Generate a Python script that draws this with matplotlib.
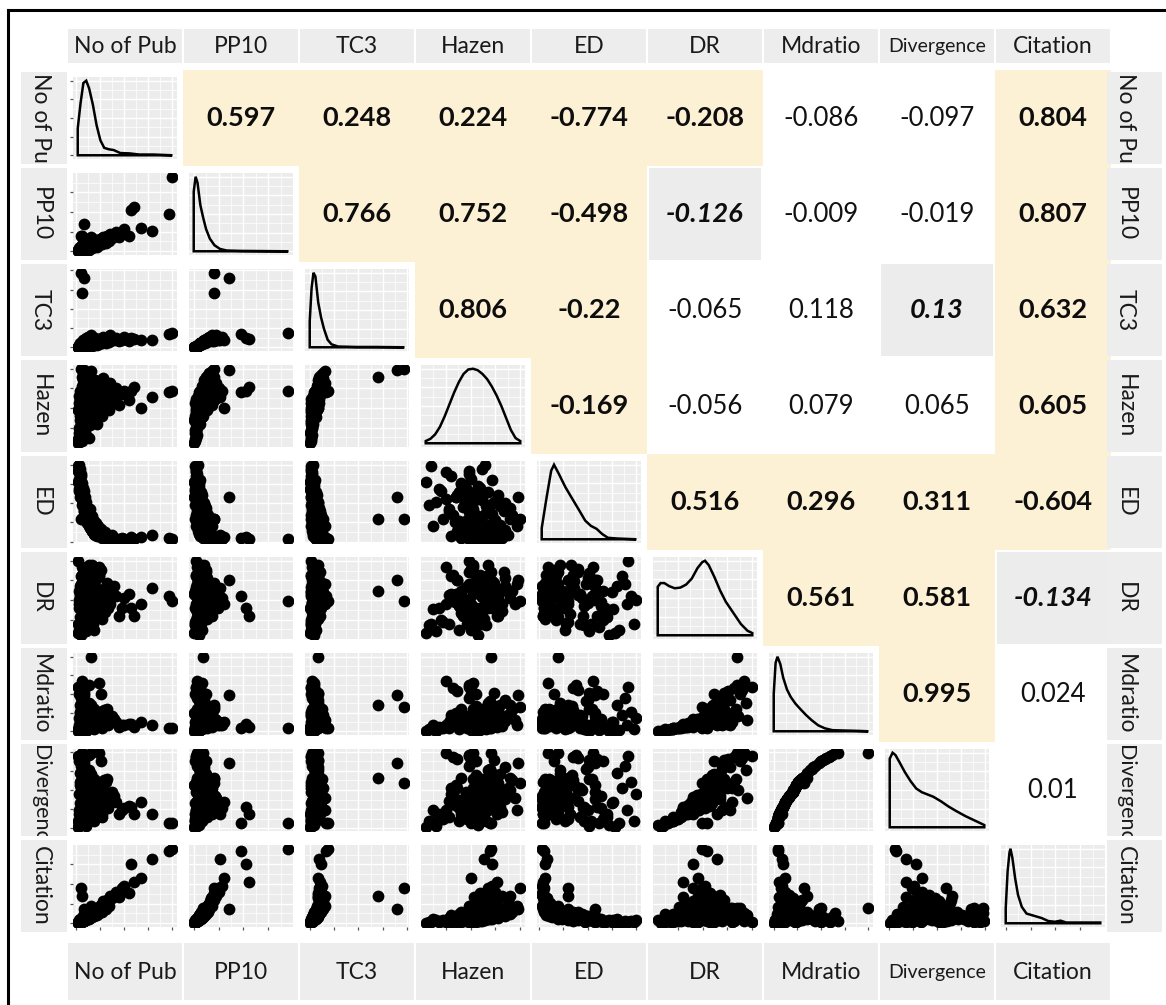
import matplotlib

matplotlib.use('Agg')
import matplotlib.pyplot as plt
import numpy as np
from matplotlib.patches import Rectangle
from matplotlib.ticker import MaxNLocator, AutoMinorLocator

plt.rcParams['font.family'] = ['Lato', 'DejaVu Sans']

W, H = 1166, 1005

LABELS = ['No of Pub', 'PP10', 'TC3', 'Hazen', 'ED', 'DR', 'Mdratio', 'Divergence', 'Citation']

# one value per observation, same order in every list (0-100 scale)
no_of_pub = [2, 3, 4, 5, 5, 6, 7, 8, 8, 9,
             10, 10, 11, 12, 12, 13, 14, 15, 15, 16,
             17, 18, 19, 20, 21, 22, 23, 25, 26, 28,
             30, 32, 35, 38, 42, 48, 55, 3, 4, 6,
             7, 9, 11, 13, 16, 2, 3, 4, 6, 8,
             10, 12, 14, 17, 19, 22, 24, 27, 31, 34,
             2, 5, 7, 9, 11, 13, 15, 18, 20, 24,
             26, 29, 6,
             3, 4, 5, 6, 7, 8, 9, 10, 11, 12,
             13, 14, 15, 16, 17, 18, 19, 20, 22, 24,
             27, 30, 33, 36, 40, 45, 50, 4, 5, 6,
             3, 7, 9, 8, 12,
             100, 97, 57, 60, 79, 68, 5, 8, 6, 16]
pp10 = [1, 2, 1, 3, 2, 4, 3, 5, 2, 6,
        4, 7, 3, 8, 5, 9, 6, 10, 4, 12,
        7, 11, 8, 14, 9, 13, 10, 16, 12, 18,
        15, 20, 22, 17, 25, 24, 20, 4, 6, 8,
        10, 12, 14, 15, 18, 0, 1, 0, 1, 2,
        1, 3, 2, 4, 5, 6, 8, 9, 11, 13,
        2, 5, 7, 9, 11, 12, 8, 6, 10, 12,
        14, 16, 3,
        2, 3, 4, 2, 5, 6, 3, 8, 6, 9,
        4, 10, 7, 11, 5, 13, 9, 7, 15, 11,
        13, 18, 16, 19, 21, 18, 28, 2, 3, 5,
        1, 4, 7, 3, 6,
        95, 48, 53, 56, 26, 30, 20, 35, 20, 9]
tc3 = [1, 2, 1, 2, 1, 3, 2, 4, 1, 5,
       3, 6, 2, 4, 3, 8, 4, 7, 2, 9,
       5, 10, 6, 12, 5, 8, 7, 11, 9, 14,
       10, 13, 16, 9, 12, 10, 8, 3, 5, 7,
       9, 10, 12, 14, 16, 0, 0, 1, 1, 1,
       1, 2, 1, 2, 3, 3, 4, 5, 6, 7,
       1, 4, 6, 8, 9, 11, 6, 4, 7, 8,
       10, 11, 2,
       1, 2, 3, 1, 4, 4, 2, 6, 5, 7,
       2, 8, 5, 9, 3, 10, 6, 4, 11, 7,
       8, 12, 10, 11, 9, 8, 13, 1, 2, 4,
       1, 3, 5, 2, 4,
       19, 17, 12, 11, 10, 9, 97, 90, 70, 8]
hazen = [10, 25, 40, 55, 30, 62, 45, 70, 20, 50,
         35, 65, 15, 58, 42, 75, 48, 60, 28, 80,
         52, 68, 38, 85, 46, 64, 55, 78, 50, 88,
         62, 72, 82, 58, 75, 68, 60, 65, 72, 78,
         85, 90, 92, 95, 97, 5, 18, 35, 8, 32,
         22, 40, 12, 36, 44, 30, 52, 40, 56, 48,
         48, 58, 68, 74, 80, 84, 56, 46, 62, 66,
         70, 76, 25,
         50, 60, 38, 45, 52, 66, 28, 72, 58, 74,
         34, 68, 50, 76, 42, 82, 54, 46, 78, 60,
         64, 70, 56, 66, 62, 54, 72, 62, 48, 40,
         56, 36, 62, 44, 52,
         71, 70, 72, 77, 64, 50, 100, 98, 90, 71]
ed = [98, 90, 75, 62, 85, 55, 70, 48, 66, 40,
      58, 36, 52, 30, 45, 28, 38, 25, 42, 22,
      33, 18, 27, 15, 24, 12, 20, 10, 16, 8,
      12, 6, 5, 8, 4, 5, 3, 100, 80, 60,
      50, 44, 35, 30, 20, 78, 68, 58, 47, 35,
      30, 24, 20, 14, 10, 7, 9, 5, 4, 3,
      92, 72, 64, 52, 46, 40, 34, 28, 22, 18,
      13, 11, 56,
      82, 70, 64, 58, 52, 46, 40, 36, 32, 28,
      26, 22, 18, 16, 14, 12, 10, 9, 8, 7,
      6, 5, 5, 4, 3, 4, 3, 95, 88, 76,
      66, 60, 54, 50, 42,
      3, 5, 6, 4, 8, 6, 30, 58, 30, 20]
dr = [20, 45, 60, 15, 80, 55, 35, 70, 25, 90,
      50, 65, 10, 75, 30, 58, 85, 40, 20, 62,
      95, 55, 12, 68, 48, 78, 28, 52, 88, 60,
      35, 72, 45, 65, 55, 40, 58, 50, 68, 30,
      78, 52, 62, 45, 70, 8, 40, 58, 18, 82,
      22, 62, 38, 75, 48, 57, 92, 33, 66, 50,
      100, 5, 48, 72, 42, 86, 60, 20, 54, 80,
      44, 64, 92,
      12, 28, 42, 66, 84, 18, 56, 74, 32, 60,
      48, 94, 24, 64, 52, 36, 70, 46, 58, 82,
      26, 62, 40, 54, 68, 30, 52, 55, 70, 38,
      62, 76, 20, 46, 58,
      49, 55, 40, 30, 65, 45, 49, 75, 61, 85]
mdratio = [3, 8, 12, 2, 22, 30, 6, 40, 4, 55,
           14, 25, 1, 10, 9, 20, 62, 16, 5, 35,
           15, 28, 3, 14, 18, 8, 7, 26, 50, 22,
           11, 30, 15, 20, 12, 8, 10, 18, 35, 10,
           42, 20, 28, 15, 8, 0, 6, 24, 3, 58,
           4, 30, 8, 22, 12, 18, 65, 6, 26, 14,
           60, 1, 16, 52, 10, 20, 34, 4, 24, 12,
           17, 28, 68,
           2, 5, 9, 20, 30, 3, 13, 24, 6, 18,
           11, 38, 4, 22, 14, 7, 30, 10, 16, 26,
           5, 20, 9, 13, 16, 6, 9, 26, 44, 12,
           50, 54, 3, 8, 22,
           4, 4, 10, 6, 9, 12, 32, 48, 35, 100]
divergence = [9, 24, 33, 6, 52, 65, 18, 78, 12, 92,
              38, 57, 3, 28, 26, 48, 96, 41, 15, 71,
              40, 62, 9, 38, 45, 24, 21, 59, 88, 52,
              30, 65, 40, 48, 34, 24, 29, 45, 72, 28,
              80, 50, 63, 40, 24, 1, 18, 56, 9, 94,
              12, 66, 24, 52, 34, 45, 98, 18, 60, 38,
              95, 4, 42, 90, 28, 50, 70, 12, 56, 34,
              43, 63, 99,
              6, 15, 26, 48, 65, 9, 36, 56, 18, 45,
              30, 76, 12, 52, 38, 21, 65, 28, 41, 60,
              15, 48, 26, 36, 42, 18, 26, 60, 82, 34,
              88, 91, 9, 24, 52,
              6, 7, 28, 18, 18, 34, 59, 85, 66, 98]
citation = [1, 2, 2, 3, 2, 4, 3, 5, 3, 6,
            5, 7, 4, 9, 6, 10, 8, 11, 7, 14,
            10, 15, 12, 18, 13, 19, 16, 22, 20, 28,
            25, 30, 35, 32, 40, 45, 38, 4, 5, 7,
            9, 12, 15, 18, 22, 0, 1, 1, 2, 3,
            4, 5, 6, 8, 9, 11, 13, 15, 18, 22,
            2, 4, 6, 8, 11, 14, 13, 12, 16, 19,
            23, 26, 3,
            2, 3, 3, 4, 5, 5, 4, 7, 7, 9,
            7, 11, 10, 13, 11, 15, 14, 14, 18, 18,
            21, 27, 28, 33, 36, 34, 48, 3, 3, 4,
            2, 5, 7, 5, 8,
            95, 92, 75, 52, 82, 58, 45, 18, 35, 20]

series = [no_of_pub, pp10, tc3, hazen, ed, dr, mdratio, divergence, citation]

# diagonal density outlines, x as share of the data range, y as share of the peak
dens_nopub_x = [0, 0.03, 0.06, 0.09, 0.12, 0.16, 0.20, 0.24, 0.28, 0.33, 0.38, 0.45, 0.55, 0.65, 0.8, 1.0]
dens_nopub_y = [0.36, 0.7, 0.97, 1.0, 0.9, 0.68, 0.4, 0.2, 0.1, 0.08, 0.07, 0.03, 0.025, 0.01, 0.01, 0.0]
dens_pp10_x = [0, 0.02, 0.04, 0.07, 0.1, 0.13, 0.17, 0.22, 0.28, 0.35, 0.5, 0.7, 1.0]
dens_pp10_y = [0.8, 1.0, 0.92, 0.62, 0.45, 0.3, 0.17, 0.08, 0.03, 0.01, 0.005, 0.003, 0.0]
dens_tc3_x = [0, 0.02, 0.04, 0.06, 0.09, 0.12, 0.15, 0.19, 0.23, 0.3, 0.5, 0.7, 1.0]
dens_tc3_y = [0.35, 0.8, 1.0, 0.95, 0.6, 0.4, 0.25, 0.1, 0.04, 0.01, 0.004, 0.004, 0.0]
dens_hazen_x = [0, 0.05, 0.1, 0.15, 0.2, 0.25, 0.3, 0.35, 0.4, 0.45, 0.5,
                0.55, 0.6, 0.65, 0.7, 0.75, 0.8, 0.85, 0.9, 0.95, 1.0]
dens_hazen_y = [0.03, 0.06, 0.12, 0.22, 0.36, 0.52, 0.68, 0.82, 0.93, 0.99, 1.0,
                0.98, 0.93, 0.86, 0.76, 0.64, 0.5, 0.34, 0.18, 0.07, 0.03]
dens_ed_x = [0, 0.05, 0.1, 0.13, 0.18, 0.25, 0.32, 0.4, 0.46, 0.52, 0.58, 0.64, 0.7, 0.8, 1.0]
dens_ed_y = [0.15, 0.55, 0.92, 1.0, 0.88, 0.7, 0.55, 0.38, 0.25, 0.18, 0.14, 0.07, 0.02, 0.01, 0.0]
dens_dr_x = [0, 0.03, 0.07, 0.12, 0.18, 0.24, 0.3, 0.36, 0.42, 0.47, 0.5,
             0.54, 0.6, 0.66, 0.72, 0.8, 0.88, 0.95, 1.0]
dens_dr_y = [0.65, 0.7, 0.7, 0.66, 0.63, 0.64, 0.68, 0.76, 0.9, 0.98, 1.0,
             0.94, 0.78, 0.6, 0.45, 0.3, 0.15, 0.06, 0.03]
dens_md_x = [0, 0.02, 0.04, 0.07, 0.1, 0.14, 0.18, 0.23, 0.28, 0.34, 0.4, 0.47, 0.54, 0.62, 0.75, 0.9, 1.0]
dens_md_y = [0.5, 0.92, 1.0, 0.9, 0.72, 0.56, 0.46, 0.37, 0.3, 0.22, 0.15, 0.08, 0.04, 0.015, 0.01, 0.005, 0.0]
dens_div_x = [0, 0.03, 0.06, 0.1, 0.16, 0.22, 0.28, 0.34, 0.4, 0.46, 0.54, 0.62, 0.7, 0.8, 0.9, 1.0]
dens_div_y = [0.92, 1.0, 0.97, 0.88, 0.74, 0.62, 0.52, 0.47, 0.44, 0.41, 0.35, 0.28, 0.22, 0.15, 0.09, 0.03]
dens_cit_x = [0, 0.02, 0.04, 0.05, 0.07, 0.1, 0.13, 0.17, 0.22, 0.3, 0.38, 0.45, 0.52, 0.58, 0.64, 0.75, 0.9, 1.0]
dens_cit_y = [0.2, 0.7, 0.95, 1.0, 0.88, 0.6, 0.38, 0.22, 0.13, 0.1, 0.07, 0.03, 0.02, 0.035, 0.01, 0.01, 0.01, 0.01]

densities = [(dens_nopub_x, dens_nopub_y), (dens_pp10_x, dens_pp10_y), (dens_tc3_x, dens_tc3_y),
             (dens_hazen_x, dens_hazen_y), (dens_ed_x, dens_ed_y), (dens_dr_x, dens_dr_y),
             (dens_md_x, dens_md_y), (dens_div_x, dens_div_y), (dens_cit_x, dens_cit_y)]

# upper triangle: correlations and how each cell is marked
# S = significant (cream, bold), G = borderline (grey, bold italic), N = not significant
corr_rows = [
    [0.597, 0.248, 0.224, -0.774, -0.208, -0.086, -0.097, 0.804],
    [0.766, 0.752, -0.498, -0.126, -0.009, -0.019, 0.807],
    [0.806, -0.22, -0.065, 0.118, 0.13, 0.632],
    [-0.169, -0.056, 0.079, 0.065, 0.605],
    [0.516, 0.296, 0.311, -0.604],
    [0.561, 0.581, -0.134],
    [0.995, 0.024],
    [0.01],
]
sig_rows = ['SSSSSNNS', 'SSSGNNS', 'SSNNGS', 'SNNNS', 'SSSS', 'SSG', 'SN', 'N']

CREAM = '#FCF0D5'
GREY_CELL = '#ECECEC'
PANEL_BG = '#ECECEC'
STRIP_BG = '#EDEDED'

COL0_CX, PITCH_X, PANEL_W = 125, 116, 104
ROW0_CY, PITCH_Y, PANEL_H = 118, 96, 82


def px_axes(x0, y0, w, h):
    return fig.add_axes([x0 / W, 1 - (y0 + h) / H, w / W, h / H])


def limits(values):
    lo, hi = min(values), max(values)
    pad = (hi - lo) * 0.05
    return lo - pad, hi + pad


fig = plt.figure(figsize=(W / 100, H / 100), dpi=100)

bg = fig.add_axes([0, 0, 1, 1])
bg.set_xlim(0, W)
bg.set_ylim(H, 0)
bg.axis('off')
bg.plot([8, 8], [10, H + 5], color='black', lw=2.2, solid_capstyle='projecting')
bg.plot([8, W + 5], [10, 10], color='black', lw=2.2, solid_capstyle='projecting')

# column strips, top and bottom
for j, name in enumerate(LABELS):
    cx = COL0_CX + PITCH_X * j
    size = 14 if name == 'Divergence' else 16.5
    bg.add_patch(Rectangle((cx - 57, 29), 114, 34, color=STRIP_BG, lw=0))
    bg.text(cx, 46, name, ha='center', va='center', fontsize=size, color='#1a1a1a')
    bg.add_patch(Rectangle((cx - 57, 943), 114, 57, color=STRIP_BG, lw=0))
    bg.text(cx, 972, name, ha='center', va='center', fontsize=size, color='#1a1a1a')

# upper triangle cells
for i, row in enumerate(corr_rows):
    for k, val in enumerate(row):
        j = i + 1 + k
        cx = COL0_CX + PITCH_X * j
        cy = ROW0_CY + PITCH_Y * i
        code = sig_rows[i][k]
        if code == 'S':
            bg.add_patch(Rectangle((cx - PITCH_X / 2, cy - PITCH_Y / 2), PITCH_X, PITCH_Y,
                                   color=CREAM, lw=0))
            bg.text(cx, cy, f'{val:g}', ha='center', va='center', fontsize=19.5,
                    weight='bold', color='#0d0d0d')
        elif code == 'G':
            bg.add_patch(Rectangle((cx - PITCH_X / 2 + 2, cy - PITCH_Y / 2 + 2), PITCH_X - 4, PITCH_Y - 4,
                                   color=GREY_CELL, lw=0))
            bg.text(cx, cy, f'{val:g}', ha='center', va='center', fontsize=19.5,
                    weight='bold', style='italic', color='#0d0d0d')
        else:
            bg.text(cx, cy, f'{val:g}', ha='center', va='center', fontsize=18.5, color='#111111')

# lower triangle and diagonal panels
for i in range(9):
    for j in range(i + 1):
        cx = COL0_CX + PITCH_X * j
        cy = ROW0_CY + PITCH_Y * i
        ax = px_axes(cx - PANEL_W / 2, cy - PANEL_H / 2, PANEL_W, PANEL_H)
        ax.set_facecolor(PANEL_BG)
        ax.set_axisbelow(True)
        for sp in ax.spines.values():
            sp.set_visible(False)
        xv = series[j]
        ax.set_xlim(*limits(xv))
        if i == j:
            dx, dy = densities[j]
            lo, hi = min(xv), max(xv)
            xs = lo + np.array(dx) * (hi - lo)
            ax.fill(np.r_[xs[0], xs, xs[-1]], np.r_[0, dy, 0], facecolor='none',
                    edgecolor='black', lw=1.8)
            ax.set_ylim(-0.05, 1.05)
        else:
            ax.scatter(xv, series[i], s=72, color='black', lw=0)
            ax.set_ylim(*limits(series[i]))
        for axis in (ax.xaxis, ax.yaxis):
            axis.set_major_locator(MaxNLocator(5))
            axis.set_minor_locator(AutoMinorLocator(2))
        ax.grid(which='major', color='white', lw=1.0)
        ax.grid(which='minor', color='white', lw=0.5)
        ax.tick_params(which='both', length=0, labelbottom=False, labelleft=False)
        if j == 0:
            ax.tick_params(axis='y', which='major', length=2.5, width=0.9, color='#555555')
        if i == 8:
            ax.tick_params(axis='x', which='major', length=2.5, width=0.9, color='#555555')

# row strips, left and right, text clipped to the strip
renderer = fig.canvas.get_renderer()
for i, name in enumerate(LABELS):
    cy = ROW0_CY + PITCH_Y * i
    size = 15.5 if name == 'Divergence' else 16.5
    for x0, w, tx in ((21, 46, 0.42), (1107, 55, 0.33)):
        sa = px_axes(x0, cy - 46, w, 92)
        sa.set_facecolor(STRIP_BG)
        sa.set_xticks([])
        sa.set_yticks([])
        for sp in sa.spines.values():
            sp.set_visible(False)
        t = sa.text(tx, 0.5, name, rotation=270, ha='center', va='center', fontsize=size,
                    color='#1a1a1a', transform=sa.transAxes, clip_on=True)
        if t.get_window_extent(renderer).height > 86:
            t.set_va('top')
            t.set_y(0.985)

fig.savefig('out.png', dpi=100)
